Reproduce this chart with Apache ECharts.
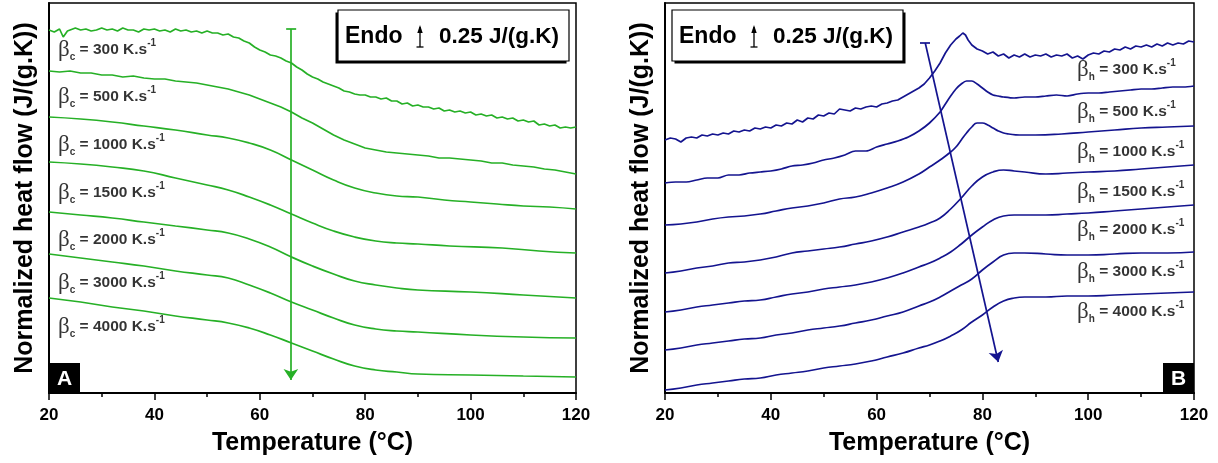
<!DOCTYPE html>
<html><head><meta charset="utf-8">
<script src="https://cdn.jsdelivr.net/npm/echarts@6/dist/echarts.min.js"></script>
<style>html,body{margin:0;padding:0;background:#fff}#c{width:1218px;height:463px}</style>
</head><body><div id="c"></div>
<script>
// ---------------- DATA ----------------
const rates = ['300','500','1000','1500','2000','3000','4000'];
const xTickLabels = ['20','40','60','80','100','120'];

// Panel A (cooling rate βc), normalized heat flow with vertical offsets, J/(g.K)
const cool300 = [[20,3.63],[21,3.61],[22,3.64],[22.7,3.56],[23.5,3.62],[25,3.65],[26,3.63],[27,3.64],[28,3.62],[29,3.63],[30,3.65],[31,3.63],[32,3.64],[33,3.62],[34,3.65],[35,3.63],[36,3.63],[37,3.61],[38,3.64],[39,3.63],[40,3.64],[41,3.62],[42,3.63],[43,3.61],[44,3.64],[45,3.62],[46,3.63],[47,3.61],[48,3.62],[49,3.60],[50,3.62],[51,3.60],[52,3.60],[53,3.58],[54,3.59],[55,3.56],[56,3.55],[57,3.52],[58,3.50],[59,3.46],[60,3.43],[61,3.41],[62,3.38],[63,3.37],[64,3.35],[65,3.32],[66,3.30],[67,3.26],[68,3.23],[69,3.19],[70,3.16],[71,3.14],[72,3.11],[73,3.09],[74,3.07],[75,3.05],[76,3.02],[77,3.01],[78,2.99],[79,2.98],[80,2.98],[81,2.96],[82,2.96],[83,2.94],[84,2.95],[85,2.92],[86,2.92],[87,2.89],[88,2.90],[89,2.87],[90,2.88],[91,2.86],[92,2.86],[93,2.84],[94,2.85],[95,2.82],[96,2.83],[97,2.81],[98,2.82],[99,2.80],[100,2.81],[101,2.78],[102,2.79],[103,2.77],[104,2.78],[105,2.75],[106,2.76],[107,2.74],[108,2.75],[109,2.72],[110,2.73],[111,2.71],[112,2.72],[113,2.68],[114,2.69],[115,2.67],[116,2.68],[117,2.65],[118,2.66],[119,2.65],[120,2.66]];
const cool500 = [[20,3.22],[22,3.21],[24,3.22],[26,3.20],[28,3.20],[30,3.18],[32,3.18],[34,3.16],[36,3.17],[38,3.15],[40,3.14],[42,3.14],[44,3.12],[46,3.11],[48,3.10],[50,3.08],[52,3.06],[54,3.04],[56,3.01],[58,2.98],[60,2.94],[62,2.90],[64,2.86],[66,2.81],[68,2.75],[70,2.70],[72,2.64],[74,2.58],[76,2.53],[78,2.49],[80,2.45],[82,2.43],[84,2.41],[86,2.40],[88,2.39],[90,2.38],[92,2.37],[94,2.35],[96,2.35],[98,2.34],[100,2.33],[102,2.32],[104,2.30],[106,2.30],[108,2.28],[110,2.27],[112,2.26],[114,2.24],[116,2.23],[118,2.21],[120,2.19]];
const cool1000 = [[20,2.76],[26,2.74],[32,2.71],[38,2.67],[44,2.63],[50,2.58],[54,2.55],[58,2.50],[62,2.43],[66,2.33],[70,2.23],[74,2.13],[78,2.05],[82,2.00],[86,1.97],[90,1.96],[95,1.93],[100,1.91],[105,1.89],[110,1.87],[115,1.86],[120,1.84]];
const cool1500 = [[20,2.31],[26,2.29],[32,2.26],[38,2.22],[44,2.15],[50,2.08],[54,2.03],[58,1.96],[62,1.88],[66,1.79],[70,1.70],[74,1.62],[78,1.56],[82,1.52],[86,1.50],[90,1.49],[96,1.47],[106,1.45],[113,1.42],[120,1.40]];
const cool2000 = [[20,1.81],[26,1.78],[32,1.75],[38,1.71],[44,1.67],[50,1.63],[54,1.60],[58,1.54],[62,1.46],[66,1.36],[70,1.27],[74,1.19],[78,1.12],[82,1.08],[86,1.05],[90,1.03],[100,1.01],[110,0.98],[120,0.95]];
const cool3000 = [[20,1.39],[26,1.35],[32,1.31],[38,1.27],[44,1.22],[50,1.18],[54,1.15],[58,1.08],[62,1.00],[66,0.91],[70,0.83],[74,0.75],[78,0.68],[82,0.64],[86,0.62],[90,0.61],[100,0.58],[110,0.56],[120,0.55]];
const cool4000 = [[20,0.95],[26,0.91],[32,0.86],[38,0.82],[44,0.77],[50,0.73],[54,0.70],[58,0.65],[62,0.58],[66,0.50],[70,0.42],[74,0.34],[78,0.27],[82,0.23],[86,0.21],[90,0.19],[100,0.18],[110,0.17],[120,0.16]];

// Panel B (heating rate βh)
const heat300 = [[20,2.53],[21,2.55],[22,2.54],[23,2.51],[24,2.55],[25,2.56],[26,2.55],[27,2.58],[28,2.57],[29,2.59],[30,2.58],[31,2.60],[32,2.59],[33,2.62],[34,2.61],[35,2.63],[36,2.62],[37,2.65],[38,2.64],[39,2.66],[40,2.65],[41,2.68],[42,2.67],[43,2.70],[44,2.69],[45,2.73],[46,2.71],[47,2.75],[48,2.74],[49,2.78],[50,2.77],[51,2.80],[52,2.79],[53,2.84],[54,2.83],[55,2.82],[56,2.85],[57,2.84],[58,2.86],[59,2.87],[60,2.86],[61,2.89],[62,2.90],[63,2.92],[64,2.93],[65,2.96],[66,2.99],[67,3.02],[68,3.05],[69,3.09],[70,3.15],[71,3.22],[72,3.30],[73,3.40],[74,3.48],[75,3.54],[75.7,3.57],[76.3,3.60],[76.8,3.58],[77.3,3.53],[78,3.48],[79,3.44],[80,3.42],[81,3.39],[82,3.41],[83,3.37],[84,3.39],[85,3.35],[86,3.38],[87,3.36],[88,3.39],[89,3.36],[90,3.38],[91,3.37],[92,3.39],[93,3.36],[94,3.38],[95,3.37],[96,3.39],[97,3.35],[98,3.37],[99,3.34],[100,3.38],[101,3.40],[102,3.39],[103,3.42],[104,3.41],[105,3.44],[106,3.43],[107,3.46],[108,3.44],[109,3.47],[110,3.46],[111,3.48],[112,3.46],[113,3.49],[114,3.47],[115,3.50],[116,3.48],[117,3.50],[118,3.49],[119,3.52],[120,3.51]];
const heat500 = [[20,2.10],[22,2.11],[24,2.11],[26,2.13],[28,2.15],[30,2.15],[32,2.18],[34,2.18],[36,2.20],[38,2.21],[40,2.22],[42,2.24],[44,2.27],[46,2.28],[48,2.30],[50,2.33],[52,2.35],[54,2.38],[56,2.42],[58,2.42],[60,2.46],[62,2.49],[64,2.52],[66,2.56],[68,2.62],[70,2.70],[72,2.81],[73,2.89],[74,2.97],[75,3.04],[76,3.09],[77,3.12],[78,3.12],[79,3.09],[80,3.05],[81,3.01],[82,2.98],[83,2.97],[84,2.96],[86,2.95],[88,2.96],[90,2.96],[92,2.97],[94,2.98],[96,2.97],[98,2.99],[100,3.00],[102,3.00],[104,3.01],[106,3.02],[108,3.03],[110,3.04],[112,3.04],[114,3.05],[116,3.06],[118,3.06],[120,3.07]];
const heat1000 = [[20,1.68],[23,1.69],[26,1.71],[29,1.74],[32,1.76],[35,1.77],[38,1.79],[41,1.82],[44,1.85],[47,1.87],[50,1.90],[53,1.94],[56,1.96],[59,2.00],[62,2.05],[65,2.11],[68,2.19],[70,2.26],[72,2.33],[74,2.41],[75,2.46],[76,2.53],[77,2.60],[78,2.66],[79,2.70],[80,2.70],[81,2.68],[82,2.65],[83,2.62],[84,2.60],[85,2.59],[87,2.58],[90,2.58],[95,2.59],[100,2.61],[105,2.63],[110,2.65],[115,2.66],[120,2.67]];
const heat1500 = [[20,1.20],[23,1.22],[26,1.25],[29,1.27],[32,1.30],[35,1.31],[38,1.33],[41,1.36],[44,1.40],[47,1.42],[50,1.44],[53,1.46],[56,1.49],[59,1.52],[62,1.56],[65,1.61],[68,1.66],[70,1.70],[72,1.75],[74,1.84],[76,1.95],[78,2.07],[80,2.16],[82,2.21],[84,2.23],[86,2.22],[88,2.21],[92,2.19],[96,2.20],[100,2.21],[105,2.22],[110,2.24],[115,2.26],[120,2.28]];
const heat2000 = [[20,0.81],[23,0.83],[26,0.86],[29,0.88],[32,0.90],[35,0.92],[38,0.93],[41,0.96],[44,0.99],[47,1.01],[50,1.04],[53,1.06],[56,1.08],[59,1.11],[62,1.15],[65,1.20],[68,1.26],[70,1.30],[72,1.35],[74,1.41],[76,1.49],[78,1.58],[80,1.66],[82,1.73],[84,1.77],[86,1.78],[88,1.78],[92,1.78],[96,1.79],[100,1.80],[105,1.82],[110,1.84],[115,1.86],[120,1.88]];
const heat3000 = [[20,0.43],[23,0.45],[26,0.48],[29,0.50],[32,0.52],[35,0.54],[38,0.55],[41,0.58],[44,0.60],[47,0.63],[50,0.65],[53,0.67],[56,0.70],[59,0.73],[62,0.77],[65,0.81],[68,0.87],[70,0.91],[72,0.96],[74,1.02],[76,1.08],[78,1.14],[80,1.23],[82,1.31],[84,1.38],[86,1.40],[88,1.40],[92,1.39],[96,1.38],[100,1.38],[105,1.39],[110,1.40],[115,1.40],[120,1.41]];
const heat4000 = [[20,0.03],[23,0.05],[26,0.08],[29,0.10],[32,0.12],[35,0.14],[38,0.15],[41,0.18],[44,0.20],[47,0.22],[50,0.25],[53,0.27],[56,0.29],[59,0.32],[62,0.36],[65,0.40],[68,0.45],[70,0.48],[72,0.52],[74,0.57],[76,0.63],[78,0.71],[80,0.78],[82,0.86],[84,0.92],[86,0.95],[88,0.96],[92,0.96],[96,0.97],[100,0.97],[105,0.98],[110,0.99],[115,1.00],[120,1.01]];

// ---------------- LAYOUT / STYLE ----------------
const coolLabelPos = [[21.7,3.43],[21.7,2.96],[21.7,2.48],[21.7,2.00],[21.7,1.53],[21.7,1.10],[21.7,0.66]];
const heatLabelPos = [[97.9,3.23],[97.9,2.81],[97.9,2.41],[97.9,2.01],[97.9,1.63],[97.9,1.21],[97.9,0.81]];
const GREEN = '#26b026', BLUE = '#14148f';
const F = '"Liberation Sans", Arial, sans-serif';

const coolSeriesData = [cool300, cool500, cool1000, cool1500, cool2000, cool3000, cool4000];
const heatSeriesData = [heat300, heat500, heat1000, heat1500, heat2000, heat3000, heat4000];

function xAx(gi) {
  return {
    type: 'value', gridIndex: gi, min: 20, max: 120, interval: 20,
    axisLine: { show: true, onZero: false, lineStyle: { color: '#000', width: 2 } },
    axisTick: { show: true, inside: false, length: 7, lineStyle: { color: '#000', width: 1.5 } },
    minorTick: { show: true, splitNumber: 2, length: 4, lineStyle: { color: '#000', width: 1.5 } },
    splitLine: { show: false },
    axisLabel: { color: '#000', fontSize: 17, fontWeight: 'bold', fontFamily: F, margin: 14,
      formatter: v => xTickLabels[Math.round((v - 20) / 20)] },
    name: 'Temperature (°C)', nameLocation: 'middle', nameGap: 38,
    nameTextStyle: { color: '#000', fontSize: 25, fontWeight: 'bold', fontFamily: F }
  };
}
function yAx(gi) {
  return {
    type: 'value', gridIndex: gi, min: 0, max: 3.9,
    axisLine: { show: true, onZero: false, lineStyle: { color: '#000', width: 2 } },
    axisTick: { show: false }, axisLabel: { show: false }, splitLine: { show: false },
    name: 'Normalized heat flow (J/(g.K))', nameLocation: 'middle', nameGap: 11,
    nameTextStyle: { color: '#000', fontSize: 25, fontWeight: 'bold', fontFamily: F }
  };
}
const rich = {
  b: { fontFamily: '"Liberation Serif", "DejaVu Serif", serif', fontSize: 23, color: '#000', lineHeight: 24 },
  s: { fontFamily: F, fontSize: 10, fontWeight: 'bold', color: '#000', lineHeight: 10, verticalAlign: 'bottom' },
  t: { fontFamily: F, fontSize: 15.5, fontWeight: 'bold', color: '#000', lineHeight: 24 },
  p: { fontFamily: F, fontSize: 10, fontWeight: 'bold', color: '#000', lineHeight: 10, verticalAlign: 'top' }
};
function lineSeries(data, gi, color, smooth) {
  return { type: 'line', xAxisIndex: gi, yAxisIndex: gi, data: data, showSymbol: false, symbol: 'none',
    smooth: smooth, silent: true, lineStyle: { color: color, width: 1.7 } };
}
function labelSeries(pos, gi, subLetter, color, arrow) {
  return {
    type: 'scatter', xAxisIndex: gi, yAxisIndex: gi, symbolSize: 0, silent: true,
    data: pos.map((p, i) => ({ value: p, label: { show: true, position: 'right', distance: 0,
      formatter: '{b|β}{s|' + subLetter + '}{t| = ' + rates[i] + ' K.s}{p|-1}', rich: rich } })),
    markLine: {
      silent: true, animation: false, label: { show: false },
      lineStyle: { color: color, width: 1.7, type: 'solid' },
      symbol: ['none', 'arrow'], symbolSize: 11,
      data: [
        [{ coord: arrow.start }, { coord: arrow.end }],
        [{ coord: arrow.capL, symbol: 'none' }, { coord: arrow.capR, symbol: 'none' }]
      ]
    }
  };
}
const arrowA = { start: [65.9, 3.64], end: [65.9, 0.13], capL: [65.0, 3.64], capR: [66.9, 3.64] };
const arrowB = { start: [69.2, 3.50], end: [83.0, 0.31], capL: [68.2, 3.50], capR: [70.1, 3.50] };

const series = [];
coolSeriesData.forEach((d, i) => series.push(lineSeries(d, 0, GREEN, i < 2 ? false : 0.5)));
heatSeriesData.forEach((d, i) => series.push(lineSeries(d, 1, BLUE, i === 0 ? false : (i === 1 ? 0.3 : 0.5))));
series.push(labelSeries(coolLabelPos, 0, 'c', GREEN, arrowA));
series.push(labelSeries(heatLabelPos, 1, 'h', BLUE, arrowB));

function endoBox(x, shadowDx) {
  const y = 10, w = 231, h = 51;
  return [
    { type: 'rect', shape: { x: x + shadowDx, y: y + 2.5, width: w, height: h }, style: { fill: '#000' }, z: 100 },
    { type: 'rect', shape: { x: x, y: y, width: w, height: h }, style: { fill: '#fff', stroke: '#000', lineWidth: 1.2 }, z: 101 },
    { type: 'text', x: x + 7, y: y + h / 2 + 1, z: 102,
      style: { text: 'Endo', fill: '#000', fontSize: 23, fontWeight: 'bold', fontFamily: F, verticalAlign: 'middle', align: 'left' } },
    { type: 'line', shape: { x1: x + 82, y1: y + 17, x2: x + 82, y2: y + 37 }, style: { stroke: '#000', lineWidth: 1.3 }, z: 102 },
    { type: 'line', shape: { x1: x + 78.5, y1: y + 37, x2: x + 85.5, y2: y + 37 }, style: { stroke: '#000', lineWidth: 1.3 }, z: 102 },
    { type: 'polygon', shape: { points: [[x + 79.3, y + 23], [x + 82, y + 15], [x + 84.7, y + 23]] }, style: { fill: '#000' }, z: 102 },
    { type: 'text', x: x + 101, y: y + h / 2 + 1, z: 102,
      style: { text: '0.25 J/(g.K)', fill: '#000', fontSize: 22.5, fontWeight: 'bold', fontFamily: F, verticalAlign: 'middle', align: 'left' } }
  ];
}
function letterBox(x, y, ch) {
  return [
    { type: 'rect', shape: { x: x, y: y, width: 31, height: 30 }, style: { fill: '#000' }, z: 100 },
    { type: 'text', x: x + 15.5, y: y + 16, z: 101,
      style: { text: ch, fill: '#fff', fontSize: 21, fontWeight: 'bold', fontFamily: F, align: 'center', verticalAlign: 'middle' } }
  ];
}

const option = {
  animation: false,
  backgroundColor: '#fff',
  grid: [
    { left: 49, top: 3, width: 527, height: 390, show: true, borderColor: '#000', borderWidth: 1.5, backgroundColor: 'transparent' },
    { left: 665, top: 3, width: 529, height: 390, show: true, borderColor: '#000', borderWidth: 1.5, backgroundColor: 'transparent' }
  ],
  xAxis: [xAx(0), xAx(1)],
  yAxis: [yAx(0), yAx(1)],
  series: series,
  graphic: [].concat(endoBox(338, -2.5), endoBox(672, 2.5), letterBox(49, 363, 'A'), letterBox(1163, 363, 'B'))
};
const chart = echarts.init(document.getElementById('c'));
chart.setOption(option);
</script>
</body></html>
